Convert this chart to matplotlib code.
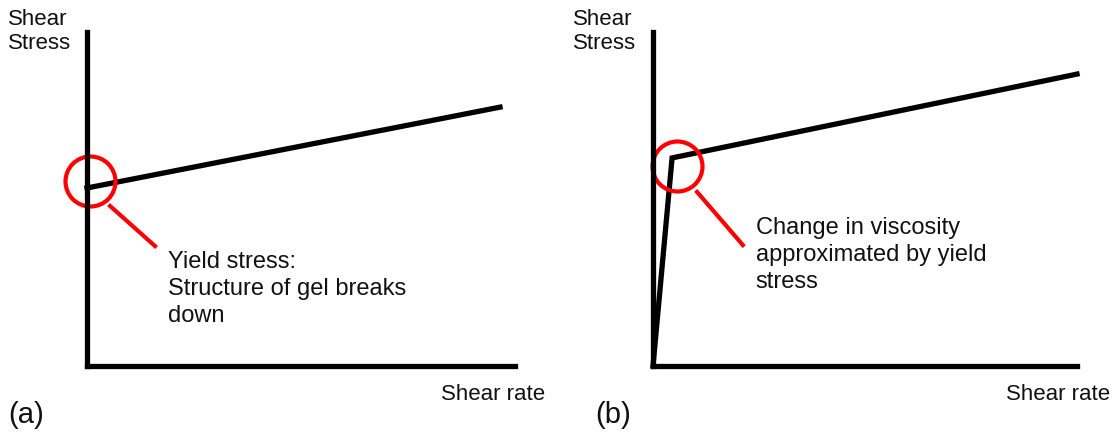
import matplotlib.pyplot as plt

plt.rcParams['font.family'] = ['Liberation Sans', 'DejaVu Sans']

W, H = 1113, 432

# flow curves (shear rate, shear stress) in arbitrary units 0..10
rate_a = [0.0, 9.65]
stress_a = [5.33, 7.75]
rate_b = [0.0, 0.45, 10.0]
stress_b = [0.0, 6.23, 8.74]

# yield-point markers and their callouts
circle_a = (0.07, 5.54)
leader_a = ([0.54, 1.59], [4.79, 3.59])
note_a = "Yield stress:\nStructure of gel breaks\ndown"
circle_b = (0.57, 5.99)
leader_b = ([1.04, 2.12], [5.21, 3.62])
note_b = "Change in viscosity\napproximated by yield\nstress"


def px(x, y):
    return x / W, 1 - y / H


def make_axes(fig, left, right, top=32, bottom=366):
    ax = fig.add_axes([left / W, 1 - bottom / H, (right - left) / W, (bottom - top) / H])
    ax.set_xlim(0, 10)
    ax.set_ylim(0, 10)
    for s in ['top', 'right']:
        ax.spines[s].set_visible(False)
    for s in ['left', 'bottom']:
        ax.spines[s].set_linewidth(3.8)
        ax.spines[s].set_color('black')
    ax.set_xticks([])
    ax.set_yticks([])
    ax.patch.set_alpha(0)
    return ax


fig = plt.figure(figsize=(W / 100, H / 100), dpi=100)

panels = [
    (87, 515, rate_a, stress_a, circle_a, leader_a, note_a, (1.89, 3.45), 8, 545, '(a)'),
    (653, 1077, rate_b, stress_b, circle_b, leader_b, note_b, (2.42, 4.46), 573, 1110, '(b)'),
]

for left, right, xs, ys, circ, lead, note, note_xy, lab_x, rate_x, tag in panels:
    ax = make_axes(fig, left, right)
    ax.plot(xs, ys, color='black', lw=3.8, solid_joinstyle='miter', clip_on=False)
    ax.plot([circ[0]], [circ[1]], marker='o', ms=36, mfc='none', mec='#ff0000',
            mew=3.0, clip_on=False)
    ax.plot(lead[0], lead[1], color='#ff0000', lw=3.0, clip_on=False)
    ax.text(note_xy[0], note_xy[1], note, fontsize=17, va='top', ha='left',
            linespacing=1.3, color='#111111')

    fig.text(*px(lab_x, 9), "Shear\nStress", fontsize=16, va='top', ha='left',
             linespacing=1.2, color='#111111')
    fig.text(*px(rate_x, 395), "Shear rate", fontsize=16, va='center', ha='right',
             color='#111111')

fig.text(*px(8, 415), '(a)', fontsize=21, va='center', ha='left', color='#111111')
fig.text(*px(595, 415), '(b)', fontsize=21, va='center', ha='left', color='#111111')

fig.savefig('out.png', dpi=100, facecolor='white')
